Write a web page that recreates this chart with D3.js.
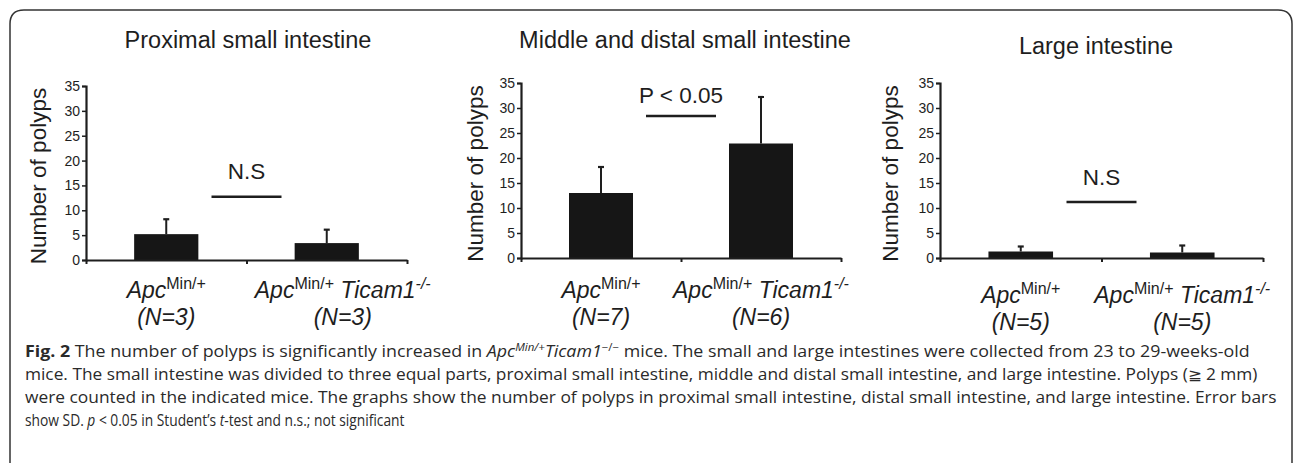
<!DOCTYPE html>
<html>
<head>
<meta charset="utf-8">
<script src="https://cdn.jsdelivr.net/npm/d3@7"></script>
<style>
  html, body { margin: 0; padding: 0; background: #fff; }
  svg { display: block; }
</style>
</head>
<body>
<svg id="chart" width="1295" height="463"></svg>
<script>
// ---------- data ----------
const panelTitles = ["Proximal small intestine", "Middle and distal small intestine", "Large intestine"];
const groupLabels = ["Apc Min/+", "Apc Min/+ Ticam1 -/-"];
const groupNs = [[3, 3], [7, 6], [5, 5]];
const meanValues = [[5.2, 3.4], [13.0, 22.9], [1.3, 1.1]];
const sdValues = [[3.0, 2.7], [5.2, 9.3], [1.0, 1.4]];
const sigLabels = ["N.S", "P < 0.05", "N.S"];
const sigLevels = [12.7, 28.4, 11.2];
const yTicks = [0, 5, 10, 15, 20, 25, 30, 35];
const yAxisTitle = "Number of polyps";

// ---------- layout (positions only) ----------
const layout = [
  { ax: 86,  y0: 260, yTop: 86, xEnd: 407,  titleX: 248,  titleY: 48, yLabX: 46,  sigDy: 18, lab1: 38, lab2: 65, lab2dx: [0, 16] },
  { ax: 521, y0: 258, yTop: 83, xEnd: 841,  titleX: 685,  titleY: 48, yLabX: 483, sigDy: 13, lab1: 40, lab2: 67, lab2dx: [0, 0] },
  { ax: 940, y0: 258, yTop: 83, xEnd: 1263, titleX: 1096, titleY: 54, yLabX: 898, sigDy: 17, lab1: 45, lab2: 72, lab2dx: [0, 0] }
];

const ink = "#1e1e1e";
const chartFont = "'Liberation Sans', Arial, Helvetica, sans-serif";
const svg = d3.select("#chart");

// frame
const fx0 = 10, fy0 = 10, fx1 = 1292, fyB = 470, r = 14;
svg.append("path")
  .attr("d", `M${fx0},${fyB} L${fx0},${fy0 + r} Q${fx0},${fy0} ${fx0 + r},${fy0} L${fx1 - r},${fy0} Q${fx1},${fy0} ${fx1},${fy0 + r} L${fx1},${fyB}`)
  .attr("fill", "none").attr("stroke", "#333").attr("stroke-width", 1.5);

panelTitles.forEach((title, p) => {
  const L = layout[p];
  const g = svg.append("g").attr("font-family", chartFont).attr("fill", ink);

  const y = d3.scaleLinear().domain([0, 35]).range([L.y0, L.yTop]);
  const x = d3.scaleBand().domain([0, 1]).range([L.ax, L.xEnd]).paddingInner(0.6).paddingOuter(0.3);
  const xEdge = d3.scaleLinear().domain([0, 2]).range([L.ax, L.xEnd]);

  // title
  g.append("text").attr("x", L.titleX).attr("y", L.titleY).attr("text-anchor", "middle")
    .attr("font-size", 23.5).text(title);

  // y axis
  const yAxis = g.append("g").attr("transform", `translate(${L.ax},0)`)
    .call(d3.axisLeft(y).tickValues(yTicks).tickSize(4).tickPadding(2));
  yAxis.select(".domain").attr("stroke", ink).attr("stroke-width", 2.2);
  yAxis.selectAll(".tick line").attr("stroke", ink).attr("stroke-width", 1.5);
  yAxis.selectAll(".tick text").attr("font-size", 14).attr("font-family", chartFont).attr("fill", ink);

  // y axis title
  g.append("text").attr("transform", `translate(${L.yLabX},${(L.y0 + L.yTop) / 2 + 3}) rotate(-90)`)
    .attr("text-anchor", "middle").attr("font-size", 22.5).text(yAxisTitle);

  // bars
  const vals = meanValues[p], sds = sdValues[p];
  g.selectAll("rect.bar").data(vals).enter().append("rect").attr("class", "bar")
    .attr("x", (d, i) => x(i)).attr("width", x.bandwidth())
    .attr("y", d => y(d)).attr("height", d => L.y0 - y(d))
    .attr("fill", "#161616");

  // error bars (upper)
  vals.forEach((v, i) => {
    const cx = x(i) + x.bandwidth() / 2;
    g.append("line").attr("x1", cx).attr("x2", cx).attr("y1", y(v)).attr("y2", y(v + sds[i]))
      .attr("stroke", ink).attr("stroke-width", 2);
    g.append("line").attr("x1", cx - 3).attr("x2", cx + 3).attr("y1", y(v + sds[i])).attr("y2", y(v + sds[i]))
      .attr("stroke", ink).attr("stroke-width", 2.2);
  });

  // x axis
  const xAxis = g.append("g").attr("transform", `translate(0,${L.y0})`)
    .call(d3.axisBottom(xEdge).tickValues([0, 1, 2]).tickFormat("").tickSize(4).tickSizeOuter(0));
  xAxis.select(".domain").attr("stroke", ink).attr("stroke-width", 2.2);
  xAxis.selectAll(".tick line").attr("stroke", ink).attr("stroke-width", 2);

  // significance
  const cMid = xEdge(1);
  const sy = y(sigLevels[p]);
  g.append("line").attr("x1", cMid - 35).attr("x2", cMid + 35).attr("y1", sy).attr("y2", sy)
    .attr("stroke", ink).attr("stroke-width", 2.5);
  g.append("text").attr("x", cMid).attr("y", sy - L.sigDy).attr("text-anchor", "middle")
    .attr("font-size", 22.5).text(sigLabels[p]);

  // group labels
  groupLabels.forEach((lab, i) => {
    const cx = x(i) + x.bandwidth() / 2 + L.lab2dx[i];
    const t = g.append("text").attr("x", cx).attr("y", L.y0 + L.lab1).attr("text-anchor", "middle")
      .attr("font-size", 23).attr("font-style", "italic");
    const parts = lab.split(" ");
    t.append("tspan").text(parts[0]);
    t.append("tspan").attr("dy", -9).attr("font-size", 16).attr("font-style", "normal").text(parts[1]);
    if (parts.length > 2) {
      t.append("tspan").attr("dy", 9).text("\u00a0" + parts[2]);
      t.append("tspan").attr("dy", -9).attr("font-size", 16).text(parts[3]);
    }
    g.append("text").attr("x", cx).attr("y", L.y0 + L.lab2).attr("text-anchor", "middle")
      .attr("font-size", 23).attr("font-style", "italic").text(`(N=${groupNs[p][i]})`);
  });
});

// ---------- caption ----------
const capFont = "'Open Sans', 'Noto Sans', sans-serif";
const cap = svg.append("g").attr("font-family", capFont).attr("font-size", 15.5).attr("fill", "#2a2a2a");
const capX = 25;
const capLines = [
  { y: 357, w: 1226 },
  { y: 380, w: 1235 },
  { y: 403, w: 1252 },
  { y: 426, w: 380 }
];
// fit a caption line to its width by horizontal scaling
function fitLine(textSel, w) {
  const n = textSel.node().getComputedTextLength();
  const s = w / n;
  textSel.attr("transform", `translate(${capX},${textSel.attr("data-y")}) scale(${s},1)`);
}
// line 1
let t1 = cap.append("text").attr("data-y", capLines[0].y);
t1.append("tspan").attr("font-weight", "bold").text("Fig. 2");
t1.append("tspan").text(" The number of polyps is significantly increased in ");
t1.append("tspan").attr("font-style", "italic").text("Apc");
t1.append("tspan").attr("font-style", "italic").attr("font-size", 10).attr("dy", -6).text("Min/+");
t1.append("tspan").attr("font-style", "italic").attr("dy", 6).text("Ticam1");
t1.append("tspan").attr("font-size", 10).attr("dy", -6).text("\u2212/\u2212");
t1.append("tspan").attr("dy", 6).text(" mice. The small and large intestines were collected from 23 to 29-weeks-old");
fitLine(t1, capLines[0].w);
// line 2
const t2 = cap.append("text").attr("data-y", capLines[1].y)
  .text("mice. The small intestine was divided to three equal parts, proximal small intestine, middle and distal small intestine, and large intestine. Polyps (\u2267 2 mm)");
fitLine(t2, capLines[1].w);
// line 3
const t3 = cap.append("text").attr("data-y", capLines[2].y)
  .text("were counted in the indicated mice. The graphs show the number of polyps in proximal small intestine, distal small intestine, and large intestine. Error bars");
fitLine(t3, capLines[2].w);
// line 4
let t4 = cap.append("text").attr("data-y", capLines[3].y);
t4.append("tspan").text("show SD. ");
t4.append("tspan").attr("font-style", "italic").text("p");
t4.append("tspan").text(" < 0.05 in Student\u2019s ");
t4.append("tspan").attr("font-style", "italic").text("t");
t4.append("tspan").text("-test and n.s.; not significant");
fitLine(t4, capLines[3].w);
</script>
</body>
</html>
